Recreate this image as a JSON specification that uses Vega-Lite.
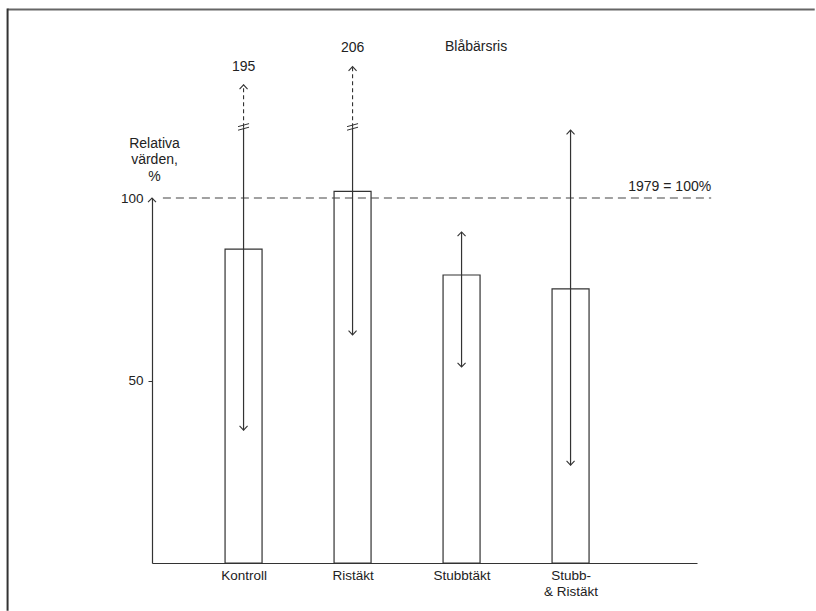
{
  "$schema": "https://vega.github.io/schema/vega-lite/v6.json",
  "width": 545,
  "height": 365,
  "autosize": "none",
  "padding": {"left": 152, "top": 198, "right": 119, "bottom": 48},
  "background": "white",
  "config": {
    "view": {"stroke": null},
    "font": "Liberation Sans",
    "text": {"font": "Liberation Sans", "color": "#222"}
  },
  "datasets": {
    "bars": [
      {"cat": "Kontroll", "i": 1, "value": 86.0, "lo": 36.4, "hi": 119.4, "tip": 131.0, "label": "195", "labelY": 136.0},
      {"cat": "Ristäkt", "i": 2, "value": 101.8, "lo": 62.5, "hi": 119.4, "tip": 136.0, "label": "206", "labelY": 141.1},
      {"cat": "Stubbtäkt", "i": 3, "value": 78.9, "lo": 53.7, "hi": 90.7, "tip": null, "label": null, "labelY": null},
      {"cat": "Stubb- & Ristäkt", "i": 4, "value": 75.1, "lo": 26.8, "hi": 118.6, "tip": null, "label": null, "labelY": null}
    ],
    "arrows": [
      {"i": 1, "v": 131.0, "dir": "up"},
      {"i": 1, "v": 36.4, "dir": "down"},
      {"i": 2, "v": 136.0, "dir": "up"},
      {"i": 2, "v": 62.5, "dir": "down"},
      {"i": 3, "v": 90.7, "dir": "up"},
      {"i": 3, "v": 53.7, "dir": "down"},
      {"i": 4, "v": 118.6, "dir": "up"},
      {"i": 4, "v": 26.8, "dir": "down"},
      {"i": 0.16, "v": 100, "dir": "up"}
    ]
  },
  "layer": [
    {
      "data": {"name": "bars"},
      "mark": {"type": "bar", "width": 37, "fill": "white", "stroke": "#333", "strokeWidth": 1.2},
      "encoding": {
        "x": {
          "field": "i", "type": "quantitative",
          "scale": {"domain": [0.16, 5.16], "nice": false, "zero": false, "padding": 0},
          "axis": {
            "values": [1, 2, 3, 4],
            "labelExpr": "datum.value == 1 ? 'Kontroll' : datum.value == 2 ? 'Ristäkt' : datum.value == 3 ? 'Stubbtäkt' : ['Stubb-', '& Ristäkt']",
            "ticks": false, "tickSize": 0, "grid": false, "title": null,
            "domainColor": "#333", "domainWidth": 1.2,
            "labelFont": "Liberation Sans", "labelFontSize": 13.5, "labelColor": "#222",
            "labelPadding": 5, "labelBaseline": "top", "labelLineHeight": 16,
            "labelOverlap": false, "labelFlush": false
          }
        },
        "y": {
          "field": "value", "type": "quantitative",
          "scale": {"domain": [0, 100], "nice": false, "zero": true, "padding": 0},
          "axis": {
            "values": [50, 100], "grid": false,
            "title": ["Relativa", "värden,", "%"],
            "titleAngle": 0, "titleAlign": "center", "titleBaseline": "alphabetic",
            "titleX": 2, "titleY": -51, "titleFont": "Liberation Sans", "titleFontSize": 14,
            "titleFontWeight": "normal", "titleColor": "#222", "titleLineHeight": 16.5,
            "labelFont": "Liberation Sans", "labelFontSize": 13.5, "labelColor": "#222", "labelPadding": 5,
            "tickSize": 4, "tickColor": "#333", "domainColor": "#333", "domainWidth": 1.2,
            "tickOpacity": {"condition": {"test": "datum.value === 100", "value": 0}, "value": 1}
          }
        }
      }
    },
    {
      "data": {"values": [{}]},
      "mark": {"type": "rule", "stroke": "#666", "strokeWidth": 2},
      "encoding": {
        "x": {"datum": -1.165, "type": "quantitative"},
        "x2": {"datum": 6.24},
        "y": {"datum": 151.64, "type": "quantitative"}
      }
    },
    {
      "data": {"values": [{}]},
      "mark": {"type": "rule", "stroke": "#333", "strokeWidth": 2},
      "encoding": {
        "x": {"datum": -1.165, "type": "quantitative"},
        "y": {"datum": 151.9, "type": "quantitative"},
        "y2": {"datum": -13.1}
      }
    },
    {
      "data": {"values": [{"ref": 100, "from": 0.26, "to": 5.29, "label": "1979 = 100%"}]},
      "layer": [
        {
          "mark": {"type": "rule", "stroke": "#444", "strokeWidth": 1.2, "strokeDash": [8, 5]},
          "encoding": {
            "x": {"field": "from", "type": "quantitative"},
            "x2": {"field": "to"},
            "y": {"field": "ref", "type": "quantitative"}
          }
        },
        {
          "mark": {"type": "text", "align": "right", "baseline": "alphabetic", "dy": -7, "fontSize": 14},
          "encoding": {
            "x": {"field": "to", "type": "quantitative"},
            "y": {"field": "ref", "type": "quantitative"},
            "text": {"field": "label"}
          }
        }
      ]
    },
    {
      "data": {"name": "bars"},
      "mark": {"type": "rule", "stroke": "#333", "strokeWidth": 1.2},
      "encoding": {
        "x": {"field": "i", "type": "quantitative"},
        "y": {"field": "lo", "type": "quantitative"},
        "y2": {"field": "hi"}
      }
    },
    {
      "data": {"name": "bars"},
      "transform": [{"filter": "isValid(datum.tip)"}],
      "layer": [
        {
          "mark": {"type": "rule", "stroke": "#333", "strokeWidth": 1.1, "strokeDash": [4, 3]},
          "encoding": {
            "x": {"field": "i", "type": "quantitative"},
            "y": {"field": "hi", "type": "quantitative"},
            "y2": {"field": "tip"}
          }
        },
        {
          "mark": {"type": "point", "shape": "M-1,-0.1L1,-0.65M-1,0.55L1,0", "size": 121, "filled": false, "stroke": "#333", "strokeWidth": 1, "opacity": 1},
          "encoding": {
            "x": {"field": "i", "type": "quantitative"},
            "y": {"field": "hi", "type": "quantitative"}
          }
        },
        {
          "mark": {"type": "text", "baseline": "middle", "align": "center", "fontSize": 14},
          "encoding": {
            "x": {"field": "i", "type": "quantitative"},
            "y": {"field": "labelY", "type": "quantitative"},
            "text": {"field": "label"}
          }
        }
      ]
    },
    {
      "data": {"name": "arrows"},
      "mark": {"type": "point", "filled": false, "size": 64, "stroke": "#333", "strokeWidth": 1.1, "opacity": 1},
      "encoding": {
        "x": {"field": "i", "type": "quantitative"},
        "y": {"field": "v", "type": "quantitative"},
        "shape": {
          "field": "dir", "type": "nominal", "legend": null,
          "scale": {"domain": ["up", "down"], "range": ["M-1,1.05L0,0L1,1.05", "M-1,-1.05L0,0L1,-1.05"]}
        }
      }
    },
    {
      "data": {"values": [{"title": "Blåbärsris", "tx": 3.133, "ty": 141.4}]},
      "mark": {"type": "text", "baseline": "middle", "align": "center", "fontSize": 14},
      "encoding": {
        "x": {"field": "tx", "type": "quantitative"},
        "y": {"field": "ty", "type": "quantitative"},
        "text": {"field": "title"}
      }
    }
  ]
}
